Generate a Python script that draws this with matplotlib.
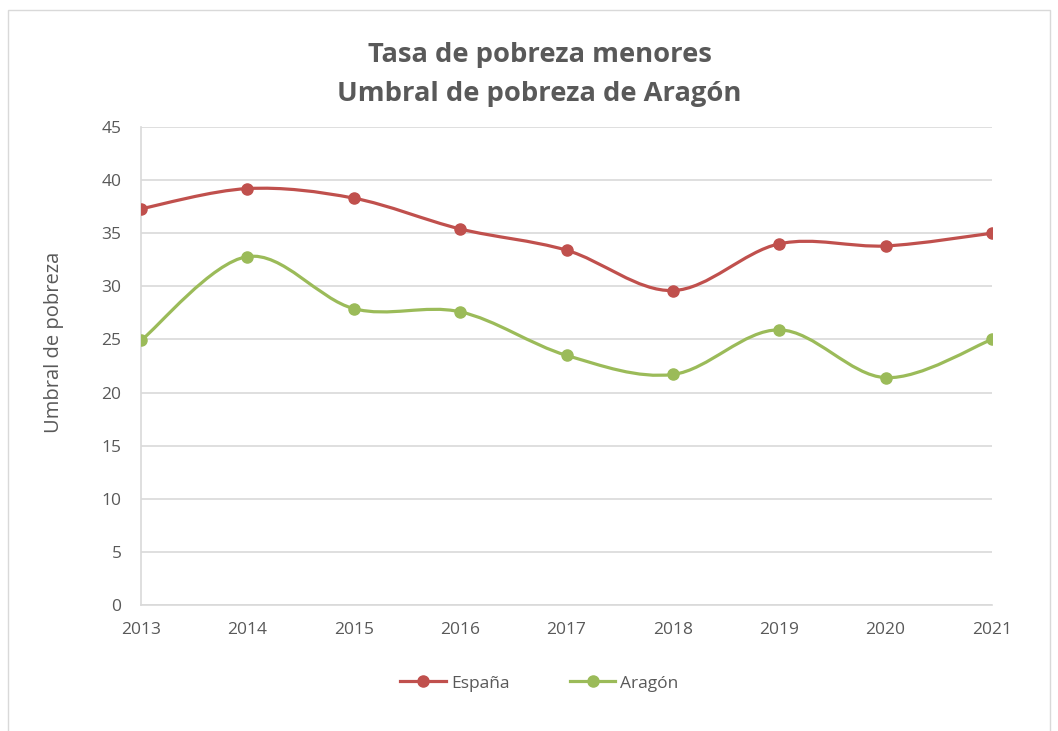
import numpy as np
import matplotlib
matplotlib.use('Agg')
import matplotlib.pyplot as plt
from matplotlib.path import Path
from matplotlib.patches import PathPatch, Rectangle
from matplotlib.lines import Line2D

# Data
years = [2013, 2014, 2015, 2016, 2017, 2018, 2019, 2020, 2021]
espana = [37.3, 39.2, 38.3, 35.4, 33.4, 29.6, 34.0, 33.8, 35.0]
aragon = [24.9, 32.8, 27.9, 27.6, 23.5, 21.7, 25.9, 21.4, 25.0]

red = '#C0504D'
green = '#9BBB59'
text_grey = '#595959'
grid_grey = '#D9D9D9'

plt.rcParams['font.family'] = ['Open Sans', 'DejaVu Sans']


def smooth_path(xs, ys):
    # Excel-style smoothed line: cubic bezier through each point
    pts = np.column_stack([xs, ys]).astype(float)
    n = len(pts)
    verts = [pts[0]]
    codes = [Path.MOVETO]
    for i in range(n - 1):
        p0 = pts[i - 1] if i > 0 else pts[i]
        p1 = pts[i]
        p2 = pts[i + 1]
        p3 = pts[i + 2] if i + 2 < n else pts[i + 1]
        c1 = p1 + (p2 - p0) / 6
        c2 = p2 - (p3 - p1) / 6
        verts += [c1, c2, p2]
        codes += [Path.CURVE4] * 3
    return Path(verts, codes)


fig = plt.figure(figsize=(10.58, 7.31), dpi=100)
ax = fig.add_axes([0.1333, 0.1724, 0.8043, 0.6539])

# chart border
fig.patches.append(Rectangle((0.008, -0.01), 0.984, 0.996, transform=fig.transFigure,
                             fill=False, edgecolor='#D9D9D9', linewidth=1))

for vals, color, name in [(espana, red, 'España'), (aragon, green, 'Aragón')]:
    ax.add_patch(PathPatch(smooth_path(years, vals), fill=False, edgecolor=color,
                           linewidth=2.3, zorder=3, capstyle='round'))
    ax.plot(years, vals, linestyle='none', marker='o', markersize=8,
            color=color, zorder=4)

ax.set_xlim(2013, 2021)
ax.set_ylim(0, 45)
ax.set_xticks(years)
ax.set_yticks(range(0, 46, 5))
ax.grid(axis='y', color=grid_grey, linewidth=1.2)
ax.set_axisbelow(True)
for side in ['top', 'right']:
    ax.spines[side].set_visible(False)
ax.spines['left'].set_color(grid_grey)
ax.spines['bottom'].set_color(grid_grey)
ax.spines['left'].set_linewidth(1.2)
ax.spines['bottom'].set_linewidth(1.2)
ax.tick_params(axis='both', length=0, labelsize=12.5, colors=text_grey)
ax.tick_params(axis='y', pad=14)
ax.tick_params(axis='x', pad=12)

ax.set_ylabel('Umbral de pobreza', fontsize=14.5, color=text_grey)
ax.yaxis.set_label_coords(-0.09, 0.55)
fig.text(0.51, 0.898, 'Tasa de pobreza menores\nUmbral de pobreza de Aragón',
         ha='center', va='center', fontsize=19.7, fontweight='bold',
         color=text_grey, linespacing=1.65)

handles = [Line2D([], [], color=red, linewidth=2.3, marker='o', markersize=8),
           Line2D([], [], color=green, linewidth=2.3, marker='o', markersize=8)]
fig.legend(handles, ['España', 'Aragón'], loc='center', bbox_to_anchor=(0.51, 0.065),
           ncol=2, frameon=False, fontsize=12.5, labelcolor=text_grey,
           handlelength=2.6, handletextpad=0.3, columnspacing=3.5)

fig.savefig('out.png', dpi=100, facecolor='white')
